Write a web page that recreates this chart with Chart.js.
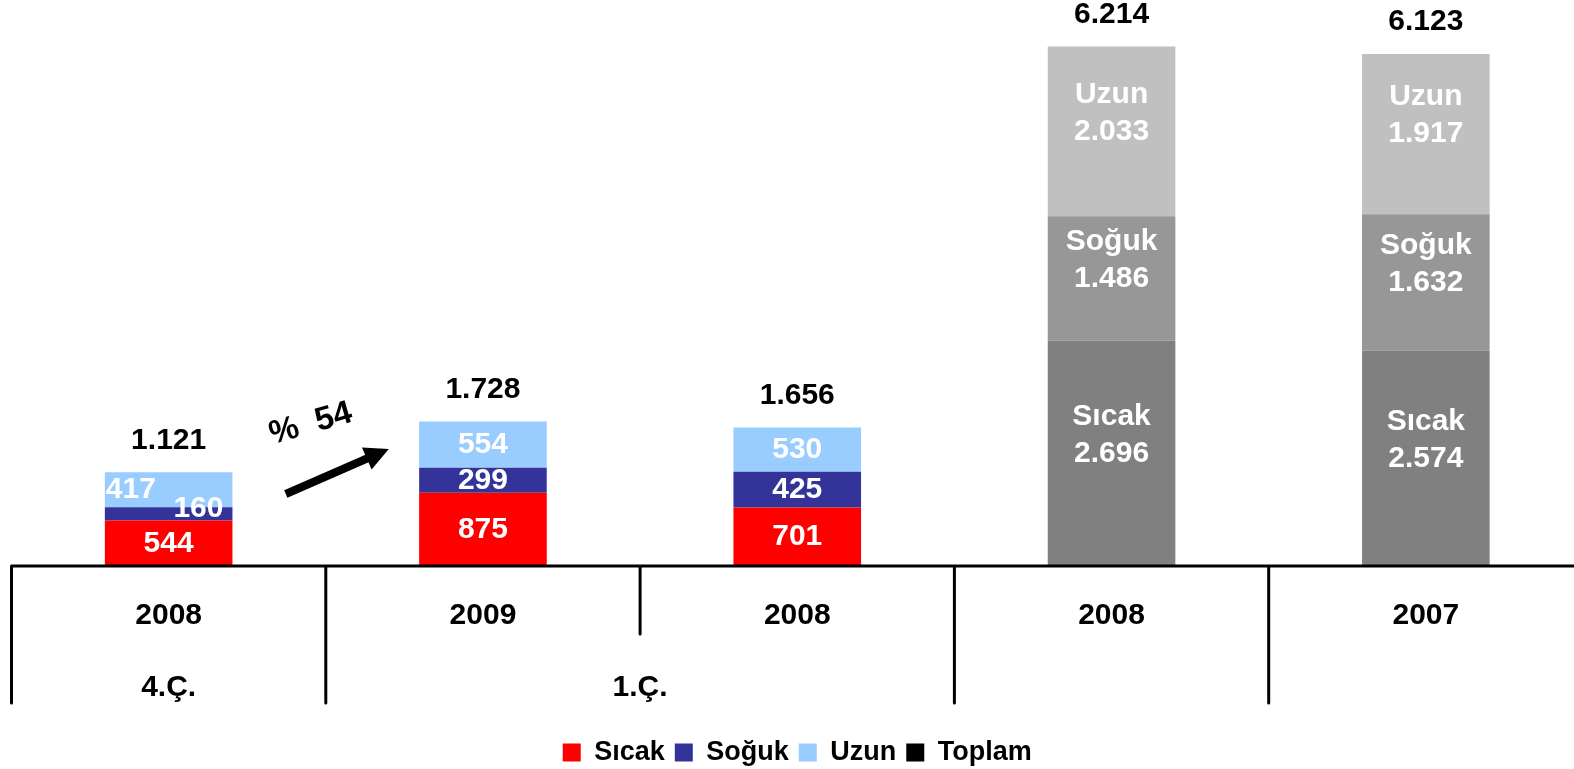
<!DOCTYPE html>
<html>
<head>
<meta charset="utf-8">
<script src="https://cdn.jsdelivr.net/npm/chart.js@4"></script>
<style>
  html, body { margin: 0; padding: 0; background: #fff; overflow: hidden; width: 1574px; height: 769px; }
</style>
</head>
<body>
<canvas id="myChart" width="1583" height="769"></canvas>
<script>
// data
const years = ['2008', '2009', '2008', '2008', '2007'];
const sicak = [544, 875, 701, 2696, 2574];
const soguk = [160, 299, 425, 1486, 1632];
const uzun = [417, 554, 530, 2033, 1917];
const toplam = [1121, 1728, 1656, 6214, 6123];
const donemler = ['4.Ç.', '1.Ç.'];
const artis = '% 54';

const FONT = '"Liberation Sans", Arial, sans-serif';
const grays = { sicak: '#808080', soguk: '#979797', uzun: '#c0c0c0' };

function fmt(v) {
    return String(v).replace(/\B(?=(\d{3})+(?!\d))/g, '.');
}

function colorFor(normal, gray) {
    return ctx => (ctx.dataIndex >= 3 ? gray : normal);
}

const labelsPlugin = {
    id: 'labels',
    afterDatasetsDraw(chart) {
        const ctx = chart.ctx;
        ctx.save();
        ctx.font = 'bold 30px ' + FONT;
        ctx.textBaseline = 'middle';
        const names = ['Sıcak', 'Soğuk', 'Uzun'];
        [0, 1, 2].forEach(d => {
            const meta = chart.getDatasetMeta(d);
            meta.data.forEach((bar, i) => {
                const v = chart.data.datasets[d].data[i];
                const mid = (bar.y + bar.base) / 2;
                ctx.fillStyle = '#fff';
                if (i >= 3) {
                    ctx.textAlign = 'center';
                    ctx.fillText(names[d], bar.x, mid - 37);
                    ctx.fillText(fmt(v), bar.x, mid);
                } else if (i === 0 && d === 2) {
                    ctx.textAlign = 'left';
                    ctx.fillText(fmt(v), bar.x - bar.width / 2 + 1, mid);
                } else if (i === 0 && d === 1) {
                    ctx.textAlign = 'right';
                    ctx.fillText(fmt(v), bar.x + bar.width / 2 - 9, mid - 5);
                } else {
                    ctx.textAlign = 'center';
                    ctx.fillText(fmt(v), bar.x, mid);
                }
            });
        });
        // totals
        const tmeta = chart.getDatasetMeta(3);
        ctx.fillStyle = '#000';
        ctx.textAlign = 'center';
        tmeta.data.forEach((pt, i) => {
            ctx.fillText(fmt(toplam[i]), pt.x, pt.y - 32);
        });
        ctx.restore();
    },
    afterDraw(chart) {
        const ctx = chart.ctx;
        const x = chart.scales.x;
        const area = chart.chartArea;
        const step = x.getPixelForValue(1) - x.getPixelForValue(0);
        const b = area.bottom;
        ctx.save();
        ctx.strokeStyle = '#000';
        ctx.lineWidth = 3;
        ctx.lineCap = 'round';
        ctx.beginPath();
        ctx.moveTo(area.left, b);
        ctx.lineTo(chart.width, b);
        for (let i = 0; i < years.length; i++) {
            const bx = x.getPixelForValue(i) - step / 2;
            ctx.moveTo(bx, b);
            ctx.lineTo(bx, i === 2 ? b + 68 : b + 137);
        }
        ctx.stroke();

        ctx.fillStyle = '#000';
        ctx.font = 'bold 30px ' + FONT;
        ctx.textAlign = 'center';
        ctx.textBaseline = 'middle';
        ctx.fillText(donemler[0], x.getPixelForValue(0), b + 122);
        ctx.fillText(donemler[1], x.getPixelForValue(1.5), b + 122);

        // growth arrow
        const cx = x.getPixelForValue(0.5);
        const x0 = cx - 40, y0 = b - 72, x1 = cx + 63, y1 = b - 117;
        const ang = Math.atan2(y1 - y0, x1 - x0);
        ctx.lineWidth = 8;
        ctx.lineCap = 'butt';
        ctx.beginPath();
        ctx.moveTo(x0, y0);
        ctx.lineTo(x1 - 20 * Math.cos(ang), y1 - 20 * Math.sin(ang));
        ctx.stroke();
        ctx.beginPath();
        ctx.moveTo(x1, y1);
        ctx.lineTo(x1 - 24 * Math.cos(ang) + 12 * Math.sin(ang), y1 - 24 * Math.sin(ang) - 12 * Math.cos(ang));
        ctx.lineTo(x1 - 24 * Math.cos(ang) - 12 * Math.sin(ang), y1 - 24 * Math.sin(ang) + 12 * Math.cos(ang));
        ctx.closePath();
        ctx.fill();

        ctx.font = 'bold 33px ' + FONT;
        ctx.translate(cx - 15, b - 142);
        ctx.rotate(-16 * Math.PI / 180);
        ctx.fillText(artis.replace(' ', '  '), 0, 0);
        ctx.restore();
    }
};

const ctx1 = document.getElementById('myChart');
const myChart = new Chart(ctx1, {
    data: {
        labels: years,
        datasets: [
            {
                type: 'bar',
                label: 'Sıcak',
                data: sicak,
                backgroundColor: colorFor('#ff0000', grays.sicak),
                stack: 'seg'
            },
            {
                type: 'bar',
                label: 'Soğuk',
                data: soguk,
                backgroundColor: colorFor('#333399', grays.soguk),
                stack: 'seg'
            },
            {
                type: 'bar',
                label: 'Uzun',
                data: uzun,
                backgroundColor: colorFor('#99ccff', grays.uzun),
                stack: 'seg'
            },
            {
                type: 'line',
                label: 'Toplam',
                data: toplam,
                showLine: false,
                pointRadius: 0,
                pointHoverRadius: 0,
                backgroundColor: '#000000',
                borderColor: '#000000',
                borderWidth: 0,
                stack: 'total'
            }
        ]
    },
    options: {
        responsive: false,
        animation: false,
        events: [],
        layout: { padding: { left: 11.5, right: 0, top: 0, bottom: -7 } },
        datasets: {
            bar: { categoryPercentage: 1, barPercentage: 0.406, borderWidth: 0 }
        },
        scales: {
            x: {
                stacked: true,
                grid: { display: false, drawTicks: false },
                border: { display: false },
                ticks: {
                    color: '#000',
                    font: { family: FONT, size: 30, weight: 'bold' },
                    padding: 32,
                    maxRotation: 0
                },
                afterFit: s => { s.height = 163; }
            },
            y: {
                display: false,
                stacked: true,
                min: 0,
                max: 6770
            }
        },
        plugins: {
            legend: {
                position: 'bottom',
                labels: {
                    color: '#000',
                    boxWidth: 18,
                    boxHeight: 18,
                    padding: 10,
                    font: { family: FONT, size: 27, weight: 'bold' }
                }
            },
            tooltip: { enabled: false }
        }
    },
    plugins: [labelsPlugin]
});
</script>
</body>
</html>
